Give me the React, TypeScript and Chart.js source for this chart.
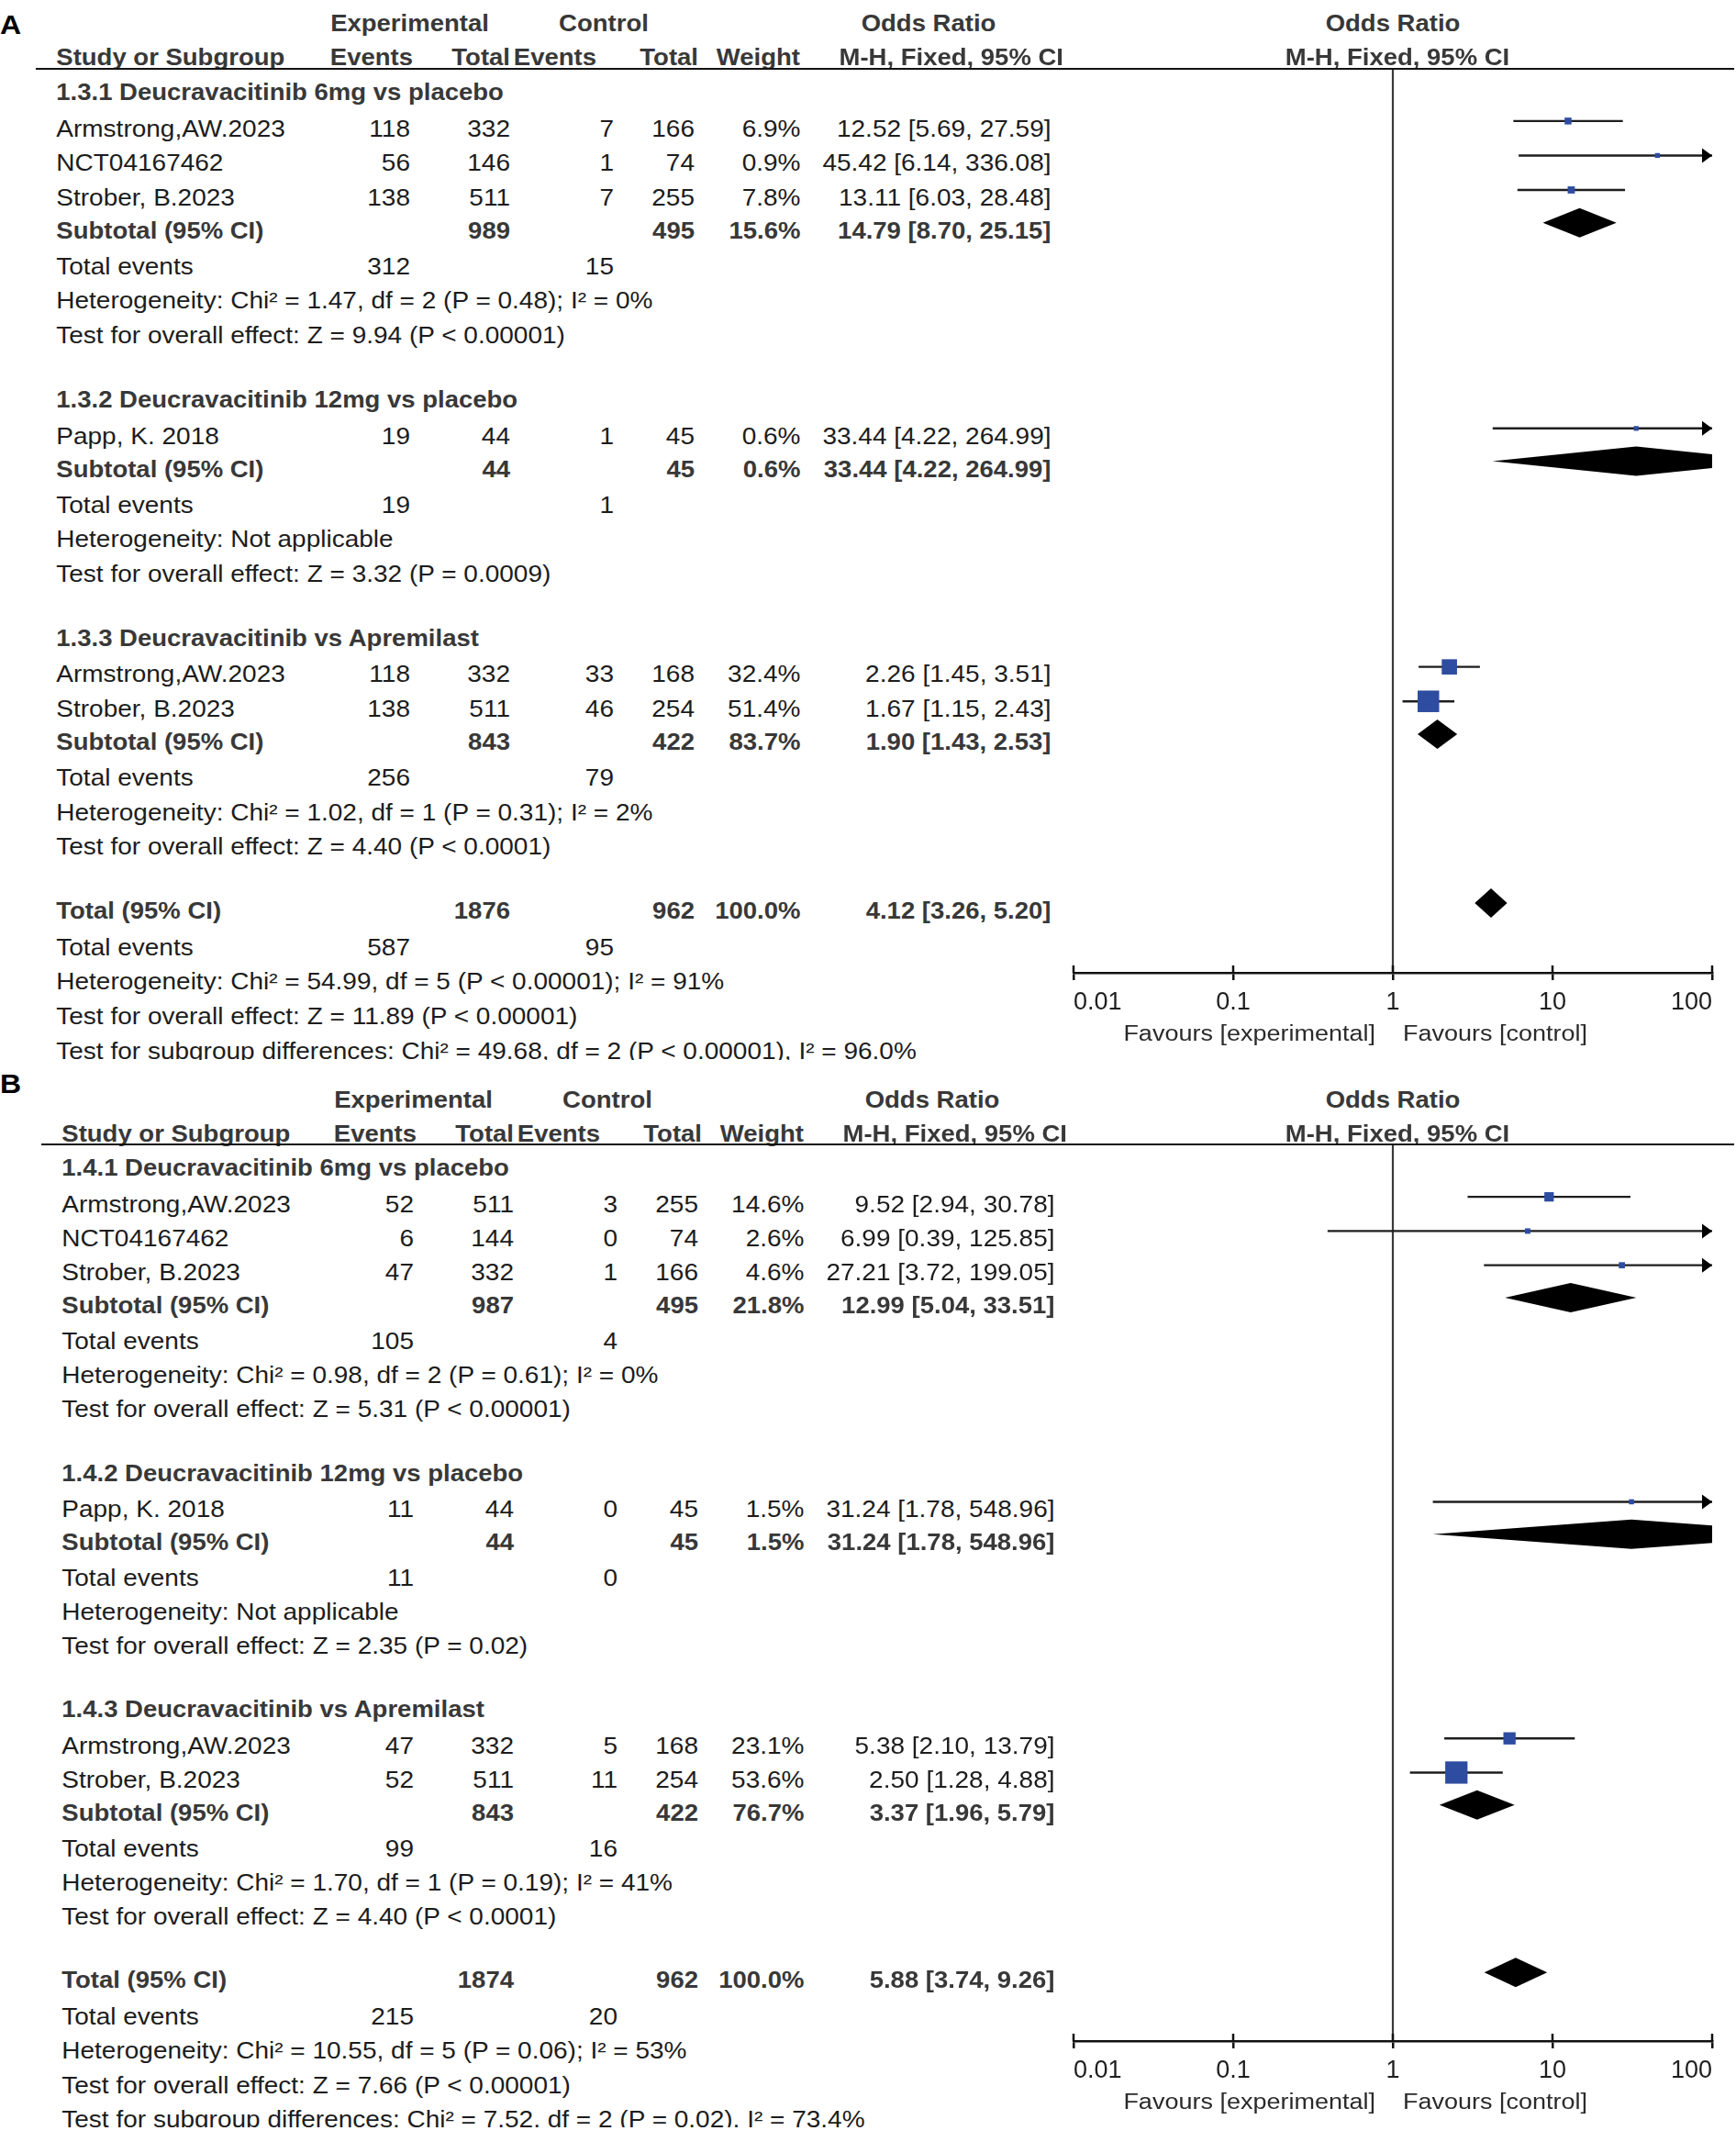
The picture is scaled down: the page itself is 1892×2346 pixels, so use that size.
import React, { useEffect, useRef } from 'react';
import { Chart, registerables } from 'chart.js';

Chart.register(...registerables);

const FONT = '"Liberation Sans", Arial, Helvetica, sans-serif';

// ---------- shared axis ----------
const TICK_VALUES = [0.01, 0.1, 1, 10, 100];
const TICK_LABELS = ['0.01', '0.1', '1', '10', '100'];
const X_MIN = 0.01;
const X_MAX = 100;

// ---------- Panel A data ----------
const A_GROUPS = ['1.3.1 Deucravacitinib 6mg vs placebo', '1.3.2 Deucravacitinib 12mg vs placebo', '1.3.3 Deucravacitinib vs Apremilast'];
const A_STUDIES = ['Armstrong,AW.2023', 'NCT04167462', 'Strober, B.2023', 'Papp, K. 2018', 'Armstrong,AW.2023', 'Strober, B.2023'];
const A_STUDY_GROUP = [0, 0, 0, 1, 2, 2];
const A_EXP_EVENTS = [118, 56, 138, 19, 118, 138];
const A_EXP_TOTAL = [332, 146, 511, 44, 332, 511];
const A_CTL_EVENTS = [7, 1, 7, 1, 33, 46];
const A_CTL_TOTAL = [166, 74, 255, 45, 168, 254];
const A_WEIGHT = [6.9, 0.9, 7.8, 0.6, 32.4, 51.4];
const A_OR = [12.52, 45.42, 13.11, 33.44, 2.26, 1.67];
const A_LO = [5.69, 6.14, 6.03, 4.22, 1.45, 1.15];
const A_HI = [27.59, 336.08, 28.48, 264.99, 3.51, 2.43];
const A_SUB_EXP_TOTAL = [989, 44, 843];
const A_SUB_CTL_TOTAL = [495, 45, 422];
const A_SUB_EXP_EVENTS = [312, 19, 256];
const A_SUB_CTL_EVENTS = [15, 1, 79];
const A_SUB_WEIGHT = [15.6, 0.6, 83.7];
const A_SUB_OR = [14.79, 33.44, 1.9];
const A_SUB_LO = [8.7, 4.22, 1.43];
const A_SUB_HI = [25.15, 264.99, 2.53];
const A_SUB_HET = [
  'Heterogeneity: Chi² = 1.47, df = 2 (P = 0.48); I² = 0%',
  'Heterogeneity: Not applicable',
  'Heterogeneity: Chi² = 1.02, df = 1 (P = 0.31); I² = 2%',
];
const A_SUB_TEST = [
  'Test for overall effect: Z = 9.94 (P < 0.00001)',
  'Test for overall effect: Z = 3.32 (P = 0.0009)',
  'Test for overall effect: Z = 4.40 (P < 0.0001)',
];
const A_TOTAL_N = [1876, 962];
const A_TOTAL_EVENTS = [587, 95];
const A_TOTAL_WEIGHT = 100.0;
const A_TOTAL_OR = [4.12, 3.26, 5.2];
const A_FOOTER = [
  'Heterogeneity: Chi² = 54.99, df = 5 (P < 0.00001); I² = 91%',
  'Test for overall effect: Z = 11.89 (P < 0.00001)',
  'Test for subgroup differences: Chi² = 49.68, df = 2 (P < 0.00001), I² = 96.0%',
];

// ---------- Panel B data ----------
const B_GROUPS = ['1.4.1 Deucravacitinib 6mg vs placebo', '1.4.2 Deucravacitinib 12mg vs placebo', '1.4.3 Deucravacitinib vs Apremilast'];
const B_STUDIES = ['Armstrong,AW.2023', 'NCT04167462', 'Strober, B.2023', 'Papp, K. 2018', 'Armstrong,AW.2023', 'Strober, B.2023'];
const B_STUDY_GROUP = [0, 0, 0, 1, 2, 2];
const B_EXP_EVENTS = [52, 6, 47, 11, 47, 52];
const B_EXP_TOTAL = [511, 144, 332, 44, 332, 511];
const B_CTL_EVENTS = [3, 0, 1, 0, 5, 11];
const B_CTL_TOTAL = [255, 74, 166, 45, 168, 254];
const B_WEIGHT = [14.6, 2.6, 4.6, 1.5, 23.1, 53.6];
const B_OR = [9.52, 6.99, 27.21, 31.24, 5.38, 2.5];
const B_LO = [2.94, 0.39, 3.72, 1.78, 2.1, 1.28];
const B_HI = [30.78, 125.85, 199.05, 548.96, 13.79, 4.88];
const B_SUB_EXP_TOTAL = [987, 44, 843];
const B_SUB_CTL_TOTAL = [495, 45, 422];
const B_SUB_EXP_EVENTS = [105, 11, 99];
const B_SUB_CTL_EVENTS = [4, 0, 16];
const B_SUB_WEIGHT = [21.8, 1.5, 76.7];
const B_SUB_OR = [12.99, 31.24, 3.37];
const B_SUB_LO = [5.04, 1.78, 1.96];
const B_SUB_HI = [33.51, 548.96, 5.79];
const B_SUB_HET = [
  'Heterogeneity: Chi² = 0.98, df = 2 (P = 0.61); I² = 0%',
  'Heterogeneity: Not applicable',
  'Heterogeneity: Chi² = 1.70, df = 1 (P = 0.19); I² = 41%',
];
const B_SUB_TEST = [
  'Test for overall effect: Z = 5.31 (P < 0.00001)',
  'Test for overall effect: Z = 2.35 (P = 0.02)',
  'Test for overall effect: Z = 4.40 (P < 0.0001)',
];
const B_TOTAL_N = [1874, 962];
const B_TOTAL_EVENTS = [215, 20];
const B_TOTAL_WEIGHT = 100.0;
const B_TOTAL_OR = [5.88, 3.74, 9.26];
const B_FOOTER = [
  'Heterogeneity: Chi² = 10.55, df = 5 (P = 0.06); I² = 53%',
  'Test for overall effect: Z = 7.66 (P < 0.00001)',
  'Test for subgroup differences: Chi² = 7.52, df = 2 (P = 0.02), I² = 73.4%',
];

// ---------- layout (geometry only) ----------
const GEOM_A = { top: 0, bottom: 1155, title: 'A', titleY: 27, hdr1Y: 25.4, hdr2Y: 62.8, lineY: 75, lineX0: 39, firstMark: 91.7, unit: 37.55, axisY: 1060, labelX: 61.3, dx: 0 };
const GEOM_B = { top: 1155, bottom: 2318, title: 'B', titleY: 1181, hdr1Y: 1198, hdr2Y: 1235.5, lineY: 1247, lineX0: 44.6, firstMark: 1264.3, unit: 37.25, axisY: 2224, labelX: 67.3, dx: 4 };
const COL = { expEv: 447, expTot: 556, ctlEv: 669, ctlTot: 757, weight: 872.5, or: 1145.5, teCtl: 669 };
const CANVAS_LEFT = 1150;
const CANVAS_W = 742;
const FS = 28;
const FS_BOLD = 27.5;

type PanelData = {
  groups: string[]; studies: string[]; studyGroup: number[];
  expEvents: number[]; expTotal: number[]; ctlEvents: number[]; ctlTotal: number[];
  weight: number[]; or: number[]; lo: number[]; hi: number[];
  subExpTotal: number[]; subCtlTotal: number[]; subExpEvents: number[]; subCtlEvents: number[];
  subWeight: number[]; subOr: number[]; subLo: number[]; subHi: number[];
  subHet: string[]; subTest: string[];
  totalN: number[]; totalEvents: number[]; totalWeight: number; totalOr: number[]; footer: string[];
};

const PANEL_A: PanelData = {
  groups: A_GROUPS, studies: A_STUDIES, studyGroup: A_STUDY_GROUP,
  expEvents: A_EXP_EVENTS, expTotal: A_EXP_TOTAL, ctlEvents: A_CTL_EVENTS, ctlTotal: A_CTL_TOTAL,
  weight: A_WEIGHT, or: A_OR, lo: A_LO, hi: A_HI,
  subExpTotal: A_SUB_EXP_TOTAL, subCtlTotal: A_SUB_CTL_TOTAL, subExpEvents: A_SUB_EXP_EVENTS, subCtlEvents: A_SUB_CTL_EVENTS,
  subWeight: A_SUB_WEIGHT, subOr: A_SUB_OR, subLo: A_SUB_LO, subHi: A_SUB_HI,
  subHet: A_SUB_HET, subTest: A_SUB_TEST,
  totalN: A_TOTAL_N, totalEvents: A_TOTAL_EVENTS, totalWeight: A_TOTAL_WEIGHT, totalOr: A_TOTAL_OR, footer: A_FOOTER,
};
const PANEL_B: PanelData = {
  groups: B_GROUPS, studies: B_STUDIES, studyGroup: B_STUDY_GROUP,
  expEvents: B_EXP_EVENTS, expTotal: B_EXP_TOTAL, ctlEvents: B_CTL_EVENTS, ctlTotal: B_CTL_TOTAL,
  weight: B_WEIGHT, or: B_OR, lo: B_LO, hi: B_HI,
  subExpTotal: B_SUB_EXP_TOTAL, subCtlTotal: B_SUB_CTL_TOTAL, subExpEvents: B_SUB_EXP_EVENTS, subCtlEvents: B_SUB_CTL_EVENTS,
  subWeight: B_SUB_WEIGHT, subOr: B_SUB_OR, subLo: B_SUB_LO, subHi: B_SUB_HI,
  subHet: B_SUB_HET, subTest: B_SUB_TEST,
  totalN: B_TOTAL_N, totalEvents: B_TOTAL_EVENTS, totalWeight: B_TOTAL_WEIGHT, totalOr: B_TOTAL_OR, footer: B_FOOTER,
};

type Row = { kind: string; y: number; i?: number; g?: number };

function buildRows(d: PanelData): Row[] {
  const rows: Row[] = [];
  let y = 0;
  d.groups.forEach((_, g) => {
    rows.push({ kind: 'group', y, g });
    y += 1.07;
    d.studyGroup.forEach((sg, i) => {
      if (sg === g) { rows.push({ kind: 'study', y, i }); y += 1; }
    });
    y -= 0.05;
    rows.push({ kind: 'sub', y, g }); y += 1.05;
    rows.push({ kind: 'events', y, g }); y += 1;
    rows.push({ kind: 'het', y, g }); y += 1;
    rows.push({ kind: 'test', y, g }); y += 1.85;
  });
  rows.push({ kind: 'total', y }); y += 1.07;
  rows.push({ kind: 'tevents', y }); y += 1;
  d.footer.forEach((_, k) => { rows.push({ kind: 'foot', y, i: k }); y += 1; });
  return rows;
}

const fmtOr = (e: number, l: number, h: number) => `${e.toFixed(2)} [${l.toFixed(2)}, ${h.toFixed(2)}]`;
const fmtW = (w: number) => `${w.toFixed(1)}%`;

function T({ x, y, s, a = 'l', b = false, fs, c }: { x: number; y: number; s: string | number; a?: string; b?: boolean; fs?: number; c?: string }) {
  const size = fs ?? (b ? FS_BOLD : FS);
  const tx = a === 'l' ? '0' : a === 'r' ? '-100%' : '-50%';
  return (
    <div
      style={{
        position: 'absolute', left: x, top: y - size * 0.4885, fontFamily: FONT, fontSize: size,
        lineHeight: `${size}px`, fontWeight: b ? 700 : 400, color: c ?? (b ? '#383838' : '#1c1c1c'),
        whiteSpace: 'pre', transform: `translateX(${tx}) scaleY(0.92)`, transformOrigin: 'center',
      }}
    >
      {s}
    </div>
  );
}

function Panel({ d, g }: { d: PanelData; g: typeof GEOM_A }) {
  const canvasRef = useRef<HTMLCanvasElement>(null);
  const rows = buildRows(d);
  const canvasH = g.bottom - g.lineY;
  const axisH = g.bottom - g.axisY;

  useEffect(() => {
    const canvas = canvasRef.current;
    if (!canvas) return;
    const studyRows = rows.filter(r => r.kind === 'study');
    const datasets: any[] = [];
    datasets.push({
      type: 'scatter', label: 'OR',
      data: studyRows.map(r => ({ x: d.or[r.i!], y: r.y })),
      pointStyle: 'rect',
      pointRadius: studyRows.map(r => (5 + 0.36 * d.weight[r.i!]) / Math.SQRT2),
      backgroundColor: '#2e4ca0', borderWidth: 0, order: 0,
    });
    studyRows.forEach(r => {
      datasets.push({
        type: 'scatter', label: 'CI', showLine: true,
        data: [{ x: d.lo[r.i!], y: r.y }, { x: d.hi[r.i!], y: r.y }],
        borderColor: '#1e1e1e', borderWidth: 2.4, pointRadius: 0, order: 1,
      });
    });
    const diamonds = rows
      .filter(r => r.kind === 'sub' || r.kind === 'total')
      .map(r => r.kind === 'sub'
        ? { y: r.y, e: d.subOr[r.g!], l: d.subLo[r.g!], h: d.subHi[r.g!] }
        : { y: r.y, e: d.totalOr[0], l: d.totalOr[1], h: d.totalOr[2] });
    const arrows = studyRows.filter(r => d.hi[r.i!] > X_MAX).map(r => r.y);

    const plugin = {
      id: 'forestExtras',
      beforeDatasetsDraw(chart: any) {
        const { ctx, chartArea: ca, scales } = chart;
        const px = scales.x.getPixelForValue(1);
        ctx.save();
        ctx.strokeStyle = '#3a3a3a';
        ctx.lineWidth = 2.2;
        ctx.beginPath();
        ctx.moveTo(px, ca.top);
        ctx.lineTo(px, ca.bottom);
        ctx.stroke();
        ctx.restore();
      },
      afterDatasetsDraw(chart: any) {
        const { ctx, chartArea: ca, scales } = chart;
        const xs = scales.x, ys = scales.y;
        ctx.save();
        ctx.beginPath();
        ctx.rect(ca.left, ca.top, ca.right - ca.left, ca.bottom - ca.top);
        ctx.clip();
        ctx.fillStyle = '#000';
        diamonds.forEach(dm => {
          const y = ys.getPixelForValue(dm.y);
          const xl = xs.getPixelForValue(dm.l), xe = xs.getPixelForValue(dm.e), xh = xs.getPixelForValue(dm.h);
          ctx.beginPath();
          ctx.moveTo(xl, y);
          ctx.lineTo(xe, y - 16);
          ctx.lineTo(xh, y);
          ctx.lineTo(xe, y + 16);
          ctx.closePath();
          ctx.fill();
        });
        ctx.restore();
        ctx.save();
        ctx.fillStyle = '#000';
        arrows.forEach(ay => {
          const y = ys.getPixelForValue(ay);
          const xr = xs.getPixelForValue(X_MAX);
          ctx.beginPath();
          ctx.moveTo(xr, y);
          ctx.lineTo(xr - 11, y - 8);
          ctx.lineTo(xr - 11, y + 8);
          ctx.closePath();
          ctx.fill();
        });
        ctx.restore();
      },
      afterDraw(chart: any) {
        const { ctx, chartArea: ca, scales } = chart;
        ctx.save();
        ctx.strokeStyle = '#111';
        ctx.lineWidth = 2.5;
        TICK_VALUES.forEach(v => {
          const px = scales.x.getPixelForValue(v);
          ctx.beginPath();
          ctx.moveTo(px, ca.bottom - 8);
          ctx.lineTo(px, ca.bottom);
          ctx.stroke();
        });
        ctx.restore();
      },
    };

    const chart = new Chart(canvas, {
      type: 'scatter',
      data: { datasets },
      options: {
        animation: false,
        responsive: false,
        maintainAspectRatio: false,
        devicePixelRatio: 1,
        events: [],
        layout: { autoPadding: false, padding: { left: 20, right: 26, top: 0, bottom: 0 } },
        plugins: { legend: { display: false }, tooltip: { enabled: false } },
        scales: {
          x: {
            type: 'logarithmic', position: 'bottom', min: X_MIN, max: X_MAX,
            afterBuildTicks: (s: any) => { s.ticks = TICK_VALUES.map(v => ({ value: v })); },
            afterFit: (s: any) => { s.height = axisH; },
            ticks: {
              callback: (_v: any, i: number) => TICK_LABELS[i],
              font: { family: FONT, size: 27 }, color: '#1e1e1e', padding: 8,
              align: 'inner', maxRotation: 0, autoSkip: false,
            },
            grid: { drawOnChartArea: false, drawTicks: true, tickLength: 8, tickColor: '#111', tickWidth: 2.5, lineWidth: 2.5, color: '#111' },
            border: { display: true, color: '#111', width: 2.5 },
          },
          y: {
            type: 'linear', display: false, reverse: true,
            min: (g.lineY - g.firstMark) / g.unit,
            max: (g.axisY - g.firstMark) / g.unit,
          },
        },
      } as any,
      plugins: [plugin],
    });
    return () => chart.destroy();
  }, []);

  const off = g.top;
  const dx = g.dx;
  const ty = (r: Row) => g.firstMark + r.y * g.unit + 8.5 - off;
  const L = g.labelX;
  const els: any[] = [];
  rows.forEach((r, k) => {
    const y = ty(r);
    if (r.kind === 'group') {
      els.push(<T key={k} x={L} y={y} s={d.groups[r.g!]} b />);
    } else if (r.kind === 'study') {
      const i = r.i!;
      els.push(<T key={k + 'a'} x={L} y={y} s={d.studies[i]} />);
      els.push(<T key={k + 'b'} x={COL.expEv + dx} y={y} s={d.expEvents[i]} a="r" />);
      els.push(<T key={k + 'c'} x={COL.expTot + dx} y={y} s={d.expTotal[i]} a="r" />);
      els.push(<T key={k + 'd'} x={COL.ctlEv + dx} y={y} s={d.ctlEvents[i]} a="r" />);
      els.push(<T key={k + 'e'} x={COL.ctlTot + dx} y={y} s={d.ctlTotal[i]} a="r" />);
      els.push(<T key={k + 'f'} x={COL.weight + dx} y={y} s={fmtW(d.weight[i])} a="r" />);
      els.push(<T key={k + 'g'} x={COL.or + dx} y={y} s={fmtOr(d.or[i], d.lo[i], d.hi[i])} a="r" />);
    } else if (r.kind === 'sub') {
      const gi = r.g!;
      els.push(<T key={k + 'a'} x={L} y={y} s="Subtotal (95% CI)" b />);
      els.push(<T key={k + 'c'} x={COL.expTot + dx} y={y} s={d.subExpTotal[gi]} a="r" b />);
      els.push(<T key={k + 'e'} x={COL.ctlTot + dx} y={y} s={d.subCtlTotal[gi]} a="r" b />);
      els.push(<T key={k + 'f'} x={COL.weight + dx} y={y} s={fmtW(d.subWeight[gi])} a="r" b />);
      els.push(<T key={k + 'g'} x={COL.or + dx} y={y} s={fmtOr(d.subOr[gi], d.subLo[gi], d.subHi[gi])} a="r" b />);
    } else if (r.kind === 'events') {
      const gi = r.g!;
      els.push(<T key={k + 'a'} x={L} y={y} s="Total events" />);
      els.push(<T key={k + 'b'} x={COL.expEv + dx} y={y} s={d.subExpEvents[gi]} a="r" />);
      els.push(<T key={k + 'd'} x={COL.teCtl + dx} y={y} s={d.subCtlEvents[gi]} a="r" />);
    } else if (r.kind === 'het') {
      els.push(<T key={k} x={L} y={y} s={d.subHet[r.g!]} />);
    } else if (r.kind === 'test') {
      els.push(<T key={k} x={L} y={y} s={d.subTest[r.g!]} />);
    } else if (r.kind === 'total') {
      els.push(<T key={k + 'a'} x={L} y={y} s="Total (95% CI)" b />);
      els.push(<T key={k + 'c'} x={COL.expTot + dx} y={y} s={d.totalN[0]} a="r" b />);
      els.push(<T key={k + 'e'} x={COL.ctlTot + dx} y={y} s={d.totalN[1]} a="r" b />);
      els.push(<T key={k + 'f'} x={COL.weight + dx} y={y} s={fmtW(d.totalWeight)} a="r" b />);
      els.push(<T key={k + 'g'} x={COL.or + dx} y={y} s={fmtOr(d.totalOr[0], d.totalOr[1], d.totalOr[2])} a="r" b />);
    } else if (r.kind === 'tevents') {
      els.push(<T key={k + 'a'} x={L} y={y} s="Total events" />);
      els.push(<T key={k + 'b'} x={COL.expEv + dx} y={y} s={d.totalEvents[0]} a="r" />);
      els.push(<T key={k + 'd'} x={COL.teCtl + dx} y={y} s={d.totalEvents[1]} a="r" />);
    } else if (r.kind === 'foot') {
      els.push(<T key={k} x={L} y={y} s={d.footer[r.i!]} />);
    }
  });

  const h1 = g.hdr1Y - off, h2 = g.hdr2Y - off;
  return (
    <div style={{ position: 'absolute', left: 0, top: off, width: 1892, height: g.bottom - g.top, overflow: 'hidden' }}>
      <canvas
        ref={canvasRef}
        width={CANVAS_W}
        height={canvasH}
        style={{ position: 'absolute', left: CANVAS_LEFT, top: g.lineY - off, width: CANVAS_W, height: canvasH }}
      />
      <T x={0} y={g.titleY - off} s={g.title} b fs={32} c="#000" />
      <T x={446.5 + dx} y={h1} s="Experimental" a="c" b />
      <T x={658 + dx} y={h1} s="Control" a="c" b />
      <T x={1012 + dx} y={h1} s="Odds Ratio" a="c" b />
      <T x={1518} y={h1} s="Odds Ratio" a="c" b />
      <T x={L} y={h2} s="Study or Subgroup" b />
      <T x={450 + dx} y={h2} s="Events" a="r" b />
      <T x={556 + dx} y={h2} s="Total" a="r" b />
      <T x={650 + dx} y={h2} s="Events" a="r" b />
      <T x={761 + dx} y={h2} s="Total" a="r" b />
      <T x={872 + dx} y={h2} s="Weight" a="r" b />
      <T x={1159 + dx} y={h2} s="M-H, Fixed, 95% CI" a="r" b />
      <T x={1523} y={h2} s="M-H, Fixed, 95% CI" a="c" b />
      <div style={{ position: 'absolute', left: g.lineX0, top: g.lineY - off - 1.25, width: 1890 - g.lineX0, height: 2.5, background: '#111' }} />
      {els}
      <T x={1499} y={g.axisY + 66 - off} s="Favours [experimental]" a="r" fs={27} c="#2a2a2a" />
      <T x={1529} y={g.axisY + 66 - off} s="Favours [control]" fs={27} c="#2a2a2a" />
    </div>
  );
}

export default function App() {
  return (
    <div style={{ position: 'absolute', left: 0, top: 0, width: 1892, height: 2346, background: '#fff', overflow: 'hidden' }}>
      <Panel d={PANEL_A} g={GEOM_A} />
      <Panel d={PANEL_B} g={GEOM_B} />
    </div>
  );
}
